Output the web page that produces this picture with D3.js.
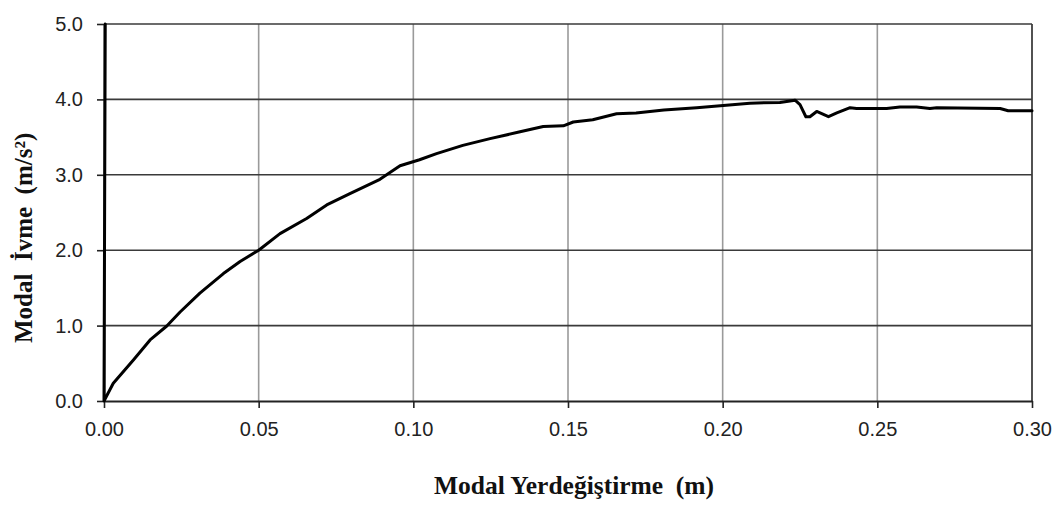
<!DOCTYPE html>
<html>
<head>
<meta charset="utf-8">
<script src="https://cdn.jsdelivr.net/npm/d3@7"></script>
<style>
  html, body { margin: 0; padding: 0; background: #fff; }
  svg { display: block; }
</style>
</head>
<body>
<svg id="chart" width="1062" height="505"></svg>
<script>
// Modal displacement (m) vs modal acceleration (m/s²) capacity curve
const dispValues = [
  0.0004, 0.000, 0.003, 0.0095, 0.0149, 0.0203, 0.0246, 0.031, 0.0386, 0.044,
  0.050, 0.0569, 0.0655, 0.072, 0.0795, 0.0892, 0.0957, 0.102, 0.1075, 0.116,
  0.1248, 0.1345, 0.142, 0.1485, 0.1517, 0.158, 0.1657, 0.172, 0.181, 0.1916,
  0.2002, 0.2088, 0.2185, 0.2234, 0.225, 0.2269, 0.2282, 0.2304, 0.2342, 0.2369,
  0.2412, 0.2433, 0.253, 0.2573, 0.2627, 0.267, 0.2692, 0.2897, 0.2923, 0.300
];
const accelValues = [
  5.00, 0.00, 0.235, 0.544, 0.81, 0.995, 1.18, 1.43, 1.69, 1.85,
  2.00, 2.22, 2.42, 2.60, 2.75, 2.94, 3.12, 3.20, 3.28, 3.39,
  3.48, 3.57, 3.64, 3.65, 3.70, 3.73, 3.81, 3.82, 3.86, 3.89,
  3.92, 3.95, 3.96, 3.99, 3.93, 3.77, 3.77, 3.84, 3.77, 3.82,
  3.89, 3.88, 3.88, 3.90, 3.90, 3.88, 3.89, 3.88, 3.85, 3.85
];
const xTicks = [0, 0.05, 0.10, 0.15, 0.20, 0.25, 0.30];
const yTicks = [0, 1, 2, 3, 4, 5];
const xTitle = "Modal Yerdeğiştirme  (m)";
const yTitle = "Modal  İvme  (m/s²)";

const svg = d3.select("#chart");
const plotLeft = 104, plotRight = 1032, plotTop = 24, plotBottom = 401;

const x = d3.scaleLinear().domain([0, 0.30]).range([plotLeft, plotRight]);
const y = d3.scaleLinear().domain([0, 5]).range([plotBottom, plotTop]);

// vertical gridlines
svg.append("g")
  .selectAll("line")
  .data(xTicks.slice(1))
  .join("line")
  .attr("x1", d => x(d)).attr("x2", d => x(d))
  .attr("y1", plotTop).attr("y2", plotBottom)
  .attr("stroke", "#9a9a9a").attr("stroke-width", 1.6);

// horizontal gridlines
svg.append("g")
  .selectAll("line")
  .data(yTicks.slice(1))
  .join("line")
  .attr("x1", plotLeft).attr("x2", plotRight)
  .attr("y1", d => y(d)).attr("y2", d => y(d))
  .attr("stroke", "#3a3a3a").attr("stroke-width", 1.6);

// right border
svg.append("line")
  .attr("x1", plotRight).attr("x2", plotRight).attr("y1", plotTop).attr("y2", plotBottom)
  .attr("stroke", "#3a3a3a").attr("stroke-width", 1.6);

// axes
const xAxis = d3.axisBottom(x).tickValues(xTicks).tickFormat(d3.format(".2f"))
  .tickSizeInner(7).tickSizeOuter(0).tickPadding(14);
const yAxis = d3.axisLeft(y).tickValues(yTicks).tickFormat(d3.format(".1f"))
  .tickSizeInner(7).tickSizeOuter(0).tickPadding(14);

const gx = svg.append("g").attr("transform", `translate(0,${plotBottom})`).call(xAxis);
const gy = svg.append("g").attr("transform", `translate(${plotLeft},0)`).call(yAxis);

[gx, gy].forEach(g => {
  g.select(".domain").attr("stroke", "#222").attr("stroke-width", 1.8);
  g.selectAll(".tick line").attr("stroke", "#222").attr("stroke-width", 1.6);
  g.selectAll(".tick text")
    .attr("fill", "#222")
    .style("font-family", "'Liberation Sans', Arial, sans-serif")
    .style("font-size", "20px");
});

// capacity curve
const points = dispValues.map((d, i) => [d, accelValues[i]]);
const line = d3.line().x(d => x(d[0])).y(d => y(d[1]));
svg.append("path")
  .datum(points)
  .attr("d", line)
  .attr("fill", "none")
  .attr("stroke", "#000")
  .attr("stroke-width", 3)
  .attr("stroke-linejoin", "round")
  .attr("stroke-linecap", "round");

// axis titles
svg.append("text")
  .attr("x", 574)
  .attr("y", 494)
  .attr("text-anchor", "middle")
  .style("font-family", "'Liberation Serif', 'Times New Roman', serif")
  .style("font-weight", "bold")
  .style("font-size", "25.5px")
  .style("white-space", "pre")
  .attr("fill", "#111")
  .text(xTitle);

svg.append("text")
  .attr("transform", "translate(32,343) rotate(-90)")
  .attr("text-anchor", "start")
  .style("font-family", "'Liberation Serif', 'Times New Roman', serif")
  .style("font-weight", "bold")
  .style("font-size", "25px")
  .style("white-space", "pre")
  .attr("fill", "#111")
  .text(yTitle);
</script>
</body>
</html>
